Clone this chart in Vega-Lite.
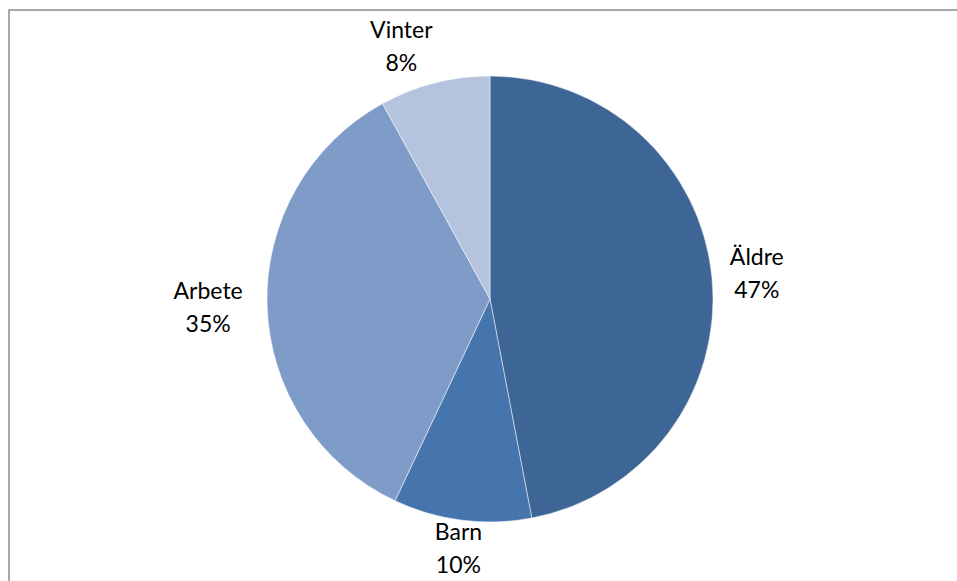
{
  "$schema": "https://vega.github.io/schema/vega-lite/v6.json",
  "autosize": "none",
  "padding": {"left": 9, "top": 10, "right": 0, "bottom": 0},
  "width": 962,
  "height": 578,
  "background": "white",
  "view": {"stroke": "#8c8c8c", "strokeWidth": 1.5, "fill": "white"},
  "data": {"values": [
    {"kategori": "Äldre", "andel": 47, "pct": "47%", "ordning": 1},
    {"kategori": "Barn", "andel": 10, "pct": "10%", "ordning": 2},
    {"kategori": "Arbete", "andel": 35, "pct": "35%", "ordning": 3},
    {"kategori": "Vinter", "andel": 8, "pct": "8%", "ordning": 4}
  ]},
  "encoding": {
    "theta": {"field": "andel", "type": "quantitative", "stack": true},
    "order": {"field": "ordning", "type": "quantitative"},
    "color": {"field": "kategori", "type": "nominal",
      "scale": {"domain": ["Äldre", "Barn", "Arbete", "Vinter"], "range": ["#3d6596", "#4674ac", "#7f9cc8", "#b5c3df"]},
      "legend": null}
  },
  "layer": [
    {"mark": {"type": "arc", "outerRadius": 223, "stroke": "white", "strokeWidth": 0.5}},
    {"mark": {"type": "text", "dy": -16, "font": "Lato", "fontSize": 23, "color": "black",
       "dx": {"expr": "datum.kategori === 'Vinter' ? -24 : 0"},
       "radius": {"expr": "datum.kategori === 'Barn' ? 252 : datum.kategori === 'Arbete' ? 282 : datum.kategori === 'Vinter' ? 260 : 268"}},
     "encoding": {"text": {"field": "kategori"}, "color": {"value": "black"}}},
    {"mark": {"type": "text", "dy": 17, "font": "Lato", "fontSize": 23, "color": "black",
       "dx": {"expr": "datum.kategori === 'Vinter' ? -24 : 0"},
       "radius": {"expr": "datum.kategori === 'Barn' ? 252 : datum.kategori === 'Arbete' ? 282 : datum.kategori === 'Vinter' ? 260 : 268"}},
     "encoding": {"text": {"field": "pct"}, "color": {"value": "black"}}}
  ]
}
